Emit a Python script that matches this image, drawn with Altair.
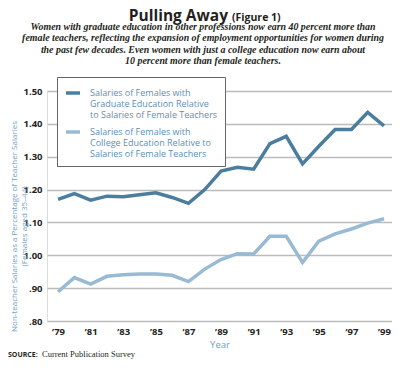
import altair as alt
import pandas as pd

years = list(range(1979, 2000))
graduate = [1.170, 1.188, 1.168, 1.180, 1.178, 1.184, 1.190, 1.176, 1.158, 1.200,
            1.256, 1.268, 1.262, 1.340, 1.362, 1.278, 1.332, 1.383, 1.383, 1.435, 1.394]
college = [0.889, 0.932, 0.912, 0.936, 0.941, 0.943, 0.943, 0.939, 0.920, 0.958,
           0.987, 1.005, 1.004, 1.058, 1.058, 0.978, 1.043, 1.065, 1.080, 1.098, 1.111]
series_names = [
    "Salaries of Females with|Graduate Education Relative|to Salaries of Female Teachers",
    "Salaries of Females with|College Education Relative to|Salaries of Female Teachers",
]
series_colors = ["#4b7d9e", "#98bad2"]
y_ticks = [0.8, 0.9, 1.0, 1.1, 1.2, 1.3, 1.4, 1.5]
x_ticks = [1979, 1981, 1983, 1985, 1987, 1989, 1991, 1993, 1995, 1997, 1999]

title_text = "Pulling Away"
figure_text = "(Figure 1)"
subtitle_lines = [
    "Women with graduate education in other professions now earn 40 percent more than",
    "female teachers, reflecting the expansion of employment opportunities for women during",
    "the past few decades. Even women with just a college education now earn about",
    "10 percent more than female teachers.",
]
source_label = "SOURCE:"
source_text = "Current Publication Survey"

rows = []
for name, vals in zip(series_names, [graduate, college]):
    for yr, v in zip(years, vals):
        rows.append({"year": yr, "value": v, "series": name})
df = pd.DataFrame(rows)

W, H = 345, 230

lines = alt.Chart(df).mark_line(strokeWidth=3.5, strokeJoin="miter").encode(
    x=alt.X("year:Q",
            scale=alt.Scale(domain=[1978.32, 1999.49], nice=False, zero=False),
            axis=alt.Axis(values=x_ticks, grid=False, domain=False, ticks=False,
                          labelExpr="'\u2019' + substring(toString(datum.value), 2)",
                          labelPadding=5, labelFont="Open Sans", labelFontWeight="bold",
                          labelFontSize=9.5, labelColor="#231f20",
                          title="Year", titleColor="#6fa0c8", titleFont="Open Sans",
                          titleFontWeight="normal", titleFontSize=9.5, titlePadding=4)),
    y=alt.Y("value:Q",
            scale=alt.Scale(domain=[0.8, 1.5], nice=False, zero=False),
            axis=alt.Axis(values=y_ticks, grid=True, gridColor="#bbbbbb", gridWidth=1.5,
                          domain=False, ticks=False, labelPadding=5,
                          labelExpr="datum.value < 1 ? replace(format(datum.value, '.2f'), '0.', '.') : format(datum.value, '.2f')",
                          labelFont="Open Sans", labelFontWeight="bold", labelFontSize=9.5,
                          labelColor="#231f20",
                          title=["Non-teacher Salaries as a Percentage of Teacher Salaries",
                                 "(Females aged 35\u201344)"],
                          titleColor="#6fa0c8", titleFont="Open Sans", titleFontWeight="normal",
                          titleFontSize=8, titleAngle=270, titleAlign="center",
                          titleBaseline="middle", titleX=-33, titleY=135, titleLineHeight=10)),
    color=alt.Color("series:N",
                    scale=alt.Scale(domain=series_names, range=series_colors),
                    legend=alt.Legend(title=None, orient="none", legendX=10, legendY=-14,
                                      strokeColor="#666666", fillColor="white", padding=7,
                                      symbolType="stroke", symbolStrokeWidth=3.5, symbolSize=196,
                                      labelExpr="split(datum.label, '|')",
                                      labelFont="Open Sans", labelFontSize=9,
                                      labelColor="#5b8fb8", labelLimit=220, labelOffset=8,
                                      rowPadding=3)),
)

layers = [lines]

def text_layer(txt, x, y, **kw):
    d = pd.DataFrame({"t": [txt]})
    return alt.Chart(d).mark_text(baseline="alphabetic", color="#231f20", **kw).encode(
        x=alt.value(x), y=alt.value(y), text=alt.Text("t:N"))

layers.append(text_layer(title_text, 181, -70.5, align="right", font="Open Sans",
                         fontWeight="bold", fontSize=15.5))
layers.append(text_layer(figure_text, 185, -70.5, align="left", font="Open Sans",
                         fontWeight="bold", fontSize=10.5))
sub_y = [-61.5, -50, -38.5, -27]
for line, yy in zip(subtitle_lines, sub_y):
    layers.append(text_layer(line, 156, yy, align="center", font="Liberation Serif",
                             fontStyle="italic", fontWeight="bold", fontSize=9.9))
layers.append(text_layer(source_label, -39, 266, align="left", font="Open Sans",
                         fontWeight="bold", fontSize=7))
layers.append(text_layer(source_text, -5, 266, align="left", font="Liberation Serif",
                         fontSize=8.5))

chart = alt.layer(*layers).properties(
    width=W, height=H,
    autosize=alt.AutoSizeParams(type="none"),
    padding={"left": 39, "top": 83, "right": 0, "bottom": 39},
).configure_view(stroke=None).configure(background="white")

chart.save("out.html", embed_options={"renderer": "svg", "actions": False})
